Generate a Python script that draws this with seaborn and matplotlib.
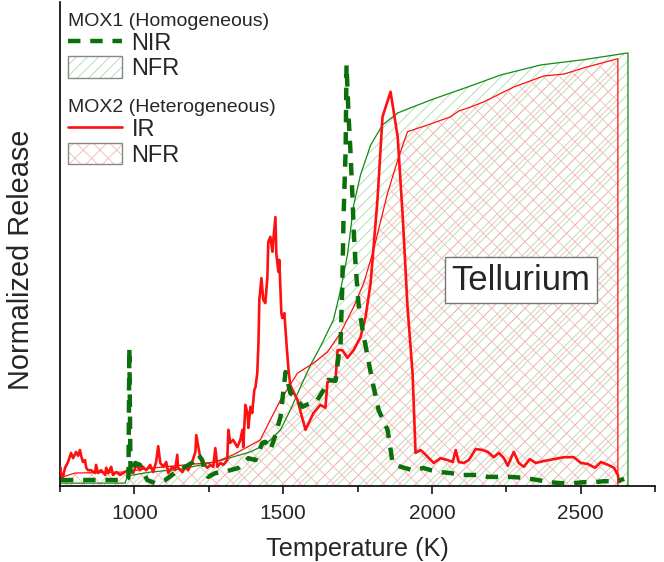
import matplotlib
matplotlib.use("Agg")
import matplotlib.pyplot as plt
from matplotlib.lines import Line2D
from matplotlib.patches import Patch
from matplotlib.legend_handler import HandlerTuple
from matplotlib.ticker import MultipleLocator, NullLocator
import numpy as np
import pandas as pd
import seaborn as sns

sns.set_style("white")
plt.rcParams["font.family"] = ["Liberation Sans", "DejaVu Sans"]
plt.rcParams["hatch.linewidth"] = 0.6

# ---- MOX1 (homogeneous): cumulative fractional release (NFR) ----
mox1_nfr_T = [750, 969, 976, 1053, 1154, 1272, 1390, 1423, 1457, 1491, 1524, 1558,
              1592, 1625, 1669, 1693, 1716, 1737, 1760, 1794, 1834, 1885, 1996,
              2120, 2231, 2366, 2511, 2659]
mox1_nfr = [0.006, 0.006, 0.021, 0.029, 0.035, 0.050, 0.071, 0.081, 0.096, 0.117,
            0.158, 0.206, 0.252, 0.290, 0.346, 0.408, 0.481, 0.585, 0.648, 0.710,
            0.752, 0.777, 0.804, 0.831, 0.856, 0.877, 0.888, 0.902]

# ---- MOX1 (homogeneous): normalized instantaneous release (NIR) ----
mox1_nir_T = [753, 969, 980, 983, 987, 1003, 1019, 1043, 1070, 1104, 1147, 1171,
              1198, 1215, 1228, 1238, 1248, 1272, 1299, 1349, 1383, 1407, 1430,
              1440, 1457, 1474, 1491, 1508, 1524, 1548, 1565, 1592, 1615, 1636,
              1652, 1676, 1686, 1693, 1699, 1703, 1710, 1713, 1720, 1726, 1733,
              1737, 1743, 1753, 1767, 1784, 1801, 1821, 1851, 1868, 1895, 1935,
              1972, 1996, 2029, 2063, 2097, 2164, 2188, 2265, 2309, 2356, 2393,
              2434, 2477, 2511, 2545, 2578, 2625, 2646]
mox1_nir = [0.0125, 0.0125, 0.017, 0.2875, 0.023, 0.048, 0.044, 0.0125, 0.006,
            0.0125, 0.033, 0.040, 0.050, 0.065, 0.054, 0.029, 0.019, 0.027, 0.029,
            0.0375, 0.058, 0.054, 0.090, 0.092, 0.075, 0.106, 0.144, 0.2375,
            0.194, 0.179, 0.165, 0.173, 0.179, 0.200, 0.221, 0.219, 0.269, 0.298,
            0.423, 0.560, 0.700, 0.877, 0.769, 0.700, 0.602, 0.533, 0.465, 0.381,
            0.325, 0.269, 0.215, 0.158, 0.117, 0.048, 0.040, 0.033, 0.0375,
            0.033, 0.029, 0.027, 0.023, 0.023, 0.019, 0.019, 0.017, 0.0125,
            0.008, 0.006, 0.006, 0.008, 0.008, 0.010, 0.010, 0.015]

# ---- MOX2 (heterogeneous): cumulative fractional release (NFR) ----
mox2_nfr_T = [750, 800, 959, 1070, 1272, 1332, 1423, 1457, 1491, 1548, 1602, 1649,
              1693, 1737, 1771, 1804, 1851, 1885, 1918, 1986, 2063, 2090, 2124,
              2174, 2275, 2376, 2444, 2511, 2625]
mox2_nfr = [0.017, 0.027, 0.029, 0.038, 0.050, 0.065, 0.096, 0.138, 0.179, 0.235,
            0.256, 0.279, 0.319, 0.373, 0.423, 0.492, 0.610, 0.679, 0.738, 0.752,
            0.769, 0.781, 0.788, 0.800, 0.831, 0.854, 0.858, 0.871, 0.890]

# ---- MOX2 (heterogeneous): instantaneous release (IR) ----
mox2_ir_T = [752, 753, 760, 767, 777, 787, 794, 804, 811, 817, 821, 827, 834, 838,
             844, 854, 868, 871, 878, 888, 902, 905, 912, 922, 928, 939, 952, 962,
             972, 986, 996, 1006, 1019, 1029, 1040, 1053, 1063, 1073, 1080, 1087,
             1097, 1107, 1114, 1127, 1137, 1144, 1147, 1161, 1171, 1181, 1194,
             1205, 1208, 1215, 1221, 1231, 1245, 1255, 1265, 1272, 1279, 1289,
             1299, 1312, 1316, 1322, 1332, 1346, 1356, 1363, 1366, 1373, 1380,
             1383, 1390, 1396, 1403, 1407, 1413, 1417, 1420, 1427, 1433, 1440,
             1447, 1450, 1457, 1464, 1467, 1474, 1477, 1484, 1487, 1494, 1497,
             1504, 1511, 1518, 1524, 1548, 1575, 1602, 1625, 1642, 1649, 1676,
             1683, 1699, 1716, 1737, 1760, 1777, 1794, 1817, 1834, 1861, 1885,
             1902, 1918, 1935, 1945, 1962, 1979, 2006, 2029, 2053, 2070, 2080,
             2090, 2107, 2124, 2147, 2171, 2188, 2208, 2225, 2242, 2255, 2275,
             2292, 2309, 2329, 2349, 2376, 2410, 2444, 2477, 2501, 2524, 2548,
             2568, 2592, 2612, 2625, 2629]
mox2_ir = [0.038, 0.027, 0.019, 0.038, 0.050, 0.069, 0.058, 0.071, 0.063, 0.075,
           0.063, 0.050, 0.054, 0.038, 0.033, 0.033, 0.027, 0.044, 0.027, 0.033,
           0.023, 0.038, 0.027, 0.040, 0.023, 0.029, 0.023, 0.027, 0.031, 0.033,
           0.027, 0.044, 0.033, 0.040, 0.033, 0.044, 0.029, 0.050, 0.083, 0.048,
           0.040, 0.050, 0.027, 0.040, 0.033, 0.065, 0.038, 0.029, 0.040, 0.033,
           0.050, 0.071, 0.106, 0.081, 0.060, 0.048, 0.038, 0.044, 0.040, 0.079,
           0.040, 0.048, 0.044, 0.054, 0.117, 0.090, 0.096, 0.081, 0.096, 0.117,
           0.081, 0.169, 0.152, 0.121, 0.165, 0.152, 0.200, 0.206, 0.235, 0.298,
           0.388, 0.433, 0.388, 0.381, 0.435, 0.508, 0.519, 0.488, 0.513, 0.560,
           0.485, 0.446, 0.471, 0.360, 0.350, 0.360, 0.298, 0.242, 0.210, 0.179,
           0.117, 0.152, 0.169, 0.163, 0.217, 0.221, 0.283, 0.283, 0.267, 0.283,
           0.310, 0.352, 0.423, 0.596, 0.769, 0.821, 0.727, 0.560, 0.373, 0.235,
           0.069, 0.075, 0.065, 0.048, 0.058, 0.054, 0.050, 0.075, 0.050, 0.048,
           0.054, 0.077, 0.075, 0.071, 0.060, 0.069, 0.058, 0.042, 0.071, 0.048,
           0.040, 0.056, 0.048, 0.052, 0.056, 0.060, 0.060, 0.048, 0.046, 0.038,
           0.050, 0.044, 0.038, 0.023, 0.008]

x_ticks = [1000, 1500, 2000, 2500]
x_tick_labels = ["1000", "1500", "2000", "2500"]

GREEN = "#138a13"
GREEN_DARK = "#0b700b"
GREEN_HATCH = "#a9dba9"
RED = "#ff1010"
RED_HATCH = "#f6b8b8"

fig = plt.figure(figsize=(6.64, 5.62), dpi=100)
ax = fig.add_axes([0.0904, 0.1352, 0.8961, 0.8612])


def closed_outline(T, v):
    """Cumulative curve followed by a vertical drop to zero at its last point."""
    return pd.DataFrame({"T": list(T) + [T[-1]], "v": list(v) + [0.0]})


# hatched cumulative-release areas
ax.fill_between(mox1_nfr_T, 0, mox1_nfr, facecolor="none", edgecolor=GREEN_HATCH,
                hatch="///", linewidth=0, zorder=1)
ax.fill_between(mox2_nfr_T, 0, mox2_nfr, facecolor="none", edgecolor=RED_HATCH,
                hatch="xx", linewidth=0, zorder=1.5)

# outlines of the cumulative curves
sns.lineplot(data=closed_outline(mox1_nfr_T, mox1_nfr), x="T", y="v", sort=False,
             estimator=None, color=GREEN, linewidth=0.9, ax=ax, zorder=2)
sns.lineplot(data=closed_outline(mox2_nfr_T, mox2_nfr), x="T", y="v", sort=False,
             estimator=None, color=RED, linewidth=0.9, ax=ax, zorder=2)

# instantaneous release curves
sns.lineplot(x=mox2_ir_T, y=mox2_ir, sort=False, estimator=None, color=RED,
             linewidth=1.9, ax=ax, zorder=3)
sns.lineplot(x=mox1_nir_T, y=mox1_nir, sort=False, estimator=None, color=GREEN_DARK,
             linewidth=3.2, linestyle=(0, (2.8, 2.2)), ax=ax, zorder=4)

ax.set_xlim(750, 2750)
ax.set_ylim(0, 1.008)
ax.xaxis.set_major_locator(MultipleLocator(500))
ax.xaxis.set_minor_locator(MultipleLocator(250))
ax.set_xticks(x_ticks)
ax.set_xticklabels(x_tick_labels)
ax.yaxis.set_major_locator(NullLocator())
ax.tick_params(axis="x", which="major", direction="out", length=6, width=1.1,
               labelsize=15, pad=7, bottom=True, color="black")
ax.tick_params(axis="x", which="minor", direction="out", length=4, width=1.1,
               bottom=True, color="black")
for side in ("top", "right"):
    ax.spines[side].set_visible(False)
for side in ("left", "bottom"):
    ax.spines[side].set_color("black")
    ax.spines[side].set_linewidth(1.2)

ax.set_xlabel("Temperature (K)", fontsize=18.2, labelpad=10)
ax.set_ylabel("Normalized Release", fontsize=20.8)
ax.yaxis.set_label_coords(-0.042, 0.467)

ax.text(2299, 0.429, "Tellurium", fontsize=25, ha="center", va="center",
        bbox=dict(boxstyle="square,pad=0.18", facecolor="white", edgecolor="#777777",
                  linewidth=1.0), zorder=5)

# grouped legends
box = dict(facecolor="none", edgecolor="#888888", linewidth=1.0)
green_patch = (Patch(facecolor="white", edgecolor=GREEN_HATCH, hatch="///", linewidth=0),
               Patch(**box))
red_patch = (Patch(facecolor="white", edgecolor=RED_HATCH, hatch="xx", linewidth=0),
             Patch(**box))
nir_handle = Line2D([], [], color=GREEN_DARK, linewidth=3.2, linestyle=(0, (2.8, 2.2)))
ir_handle = Line2D([], [], color=RED, linewidth=1.9)

common = dict(frameon=False, fontsize=17, title_fontsize=14, alignment="left",
              handlelength=2.3, handleheight=1.05, handletextpad=0.4,
              labelspacing=0.05, borderpad=0.2, borderaxespad=0.0,
              handler_map={tuple: HandlerTuple(ndivide=1, pad=0)})
leg1 = ax.legend([nir_handle, green_patch], ["NIR", "NFR"], title="MOX1 (Homogeneous)",
                 loc="upper left", bbox_to_anchor=(0.005, 0.987), **common)
ax.add_artist(leg1)
leg2 = ax.legend([ir_handle, red_patch], ["IR", "NFR"], title="MOX2 (Heterogeneous)",
                 loc="upper left", bbox_to_anchor=(0.005, 0.809), **common)
for lg in (leg1, leg2):
    lg.get_title().set_fontsize(14)

fig.savefig("out.png", dpi=100)
